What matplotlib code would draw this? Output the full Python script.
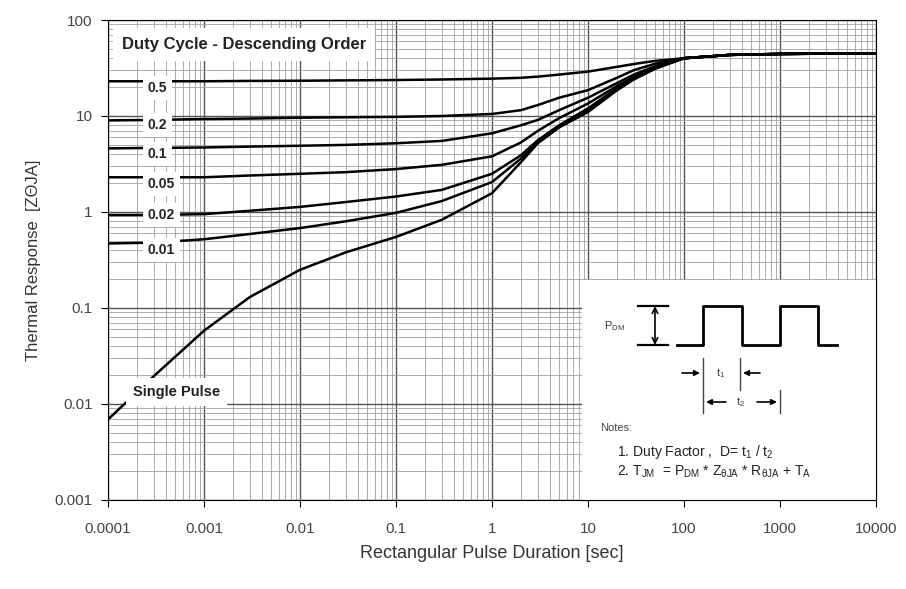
import numpy as np
import matplotlib.pyplot as plt

# pulse duration (s)
t = [1e-4, 3e-4, 1e-3, 3e-3, 1e-2, 3e-2, 0.1, 0.3, 1, 2, 3, 5, 10, 20, 30, 50,
     100, 200, 300, 1000, 1e4]
plateau = [40, 42, 43.3, 44.3, 45]

d05 = [23, 23, 23, 23.2, 23.3, 23.5, 23.7, 24, 24.5, 25, 25.7, 27, 29, 32.5, 34.8, 37.5] + plateau
d02 = [9.0, 9.1, 9.3, 9.4, 9.6, 9.7, 9.8, 10.0, 10.5, 11.5, 13, 15.5, 18.6, 25, 30, 35] + plateau
d01 = [4.6, 4.65, 4.7, 4.8, 4.9, 5.0, 5.2, 5.5, 6.6, 8.0, 9.1, 11.5, 15.5, 22, 27, 33] + plateau
d005 = [2.3, 2.3, 2.3, 2.4, 2.5, 2.6, 2.8, 3.1, 3.8, 5.3, 7.0, 9.5, 13.5, 20.5, 25.5, 32] + plateau
d002 = [0.93, 0.93, 0.95, 1.03, 1.13, 1.27, 1.45, 1.7, 2.5, 3.9, 5.6, 8.0, 12, 19.5, 25, 32] + plateau
d001 = [0.47, 0.48, 0.52, 0.59, 0.68, 0.8, 0.98, 1.3, 2.05, 3.6, 5.3, 7.8, 11.5, 19, 24.5, 31.5] + plateau
single = [0.0069, 0.0195, 0.058, 0.13, 0.25, 0.38, 0.55, 0.83, 1.57, 3.3, 5.2, 7.6, 11, 18.5, 24, 31] + plateau

curves = [d05, d02, d01, d005, d002, d001, single]
labels = ['0.5', '0.2', '0.1', '0.05', '0.02', '0.01']
label_pos = [(2.6e-4, 19.6), (2.6e-4, 8.06), (2.6e-4, 4.02), (2.6e-4, 1.96), (2.6e-4, 0.93), (2.6e-4, 0.40)]

xticks = [1e-4, 1e-3, 1e-2, 0.1, 1, 10, 100, 1000, 1e4]
xticklabels = ['0.0001', '0.001', '0.01', '0.1', '1', '10', '100', '1000', '10000']
yticks = [0.001, 0.01, 0.1, 1, 10, 100]
yticklabels = ['0.001', '0.01', '0.1', '1', '10', '100']

plt.rcParams['font.family'] = ['Liberation Sans', 'DejaVu Sans']

fig = plt.figure(figsize=(9.06, 5.89), dpi=100)
ax = fig.add_axes([108/906, 89/589, 768/906, 480/589])
ax.set_xscale('log')
ax.set_yscale('log')
ax.set_xlim(1e-4, 1e4)
ax.set_ylim(1e-3, 100)

for c in curves:
    ax.plot(t, c, color='black', lw=1.8, zorder=3)

ax.grid(which='major', color='#555555', lw=1.0)
ax.grid(which='minor', color='#a0a0a0', lw=0.6)
ax.set_xticks(xticks)
ax.set_xticklabels(xticklabels)
ax.set_yticks(yticks)
ax.set_yticklabels(yticklabels)
ax.tick_params(which='minor', length=0)
ax.tick_params(which='major', length=5, labelsize=11, labelcolor='#444444', pad=6)
ax.tick_params(axis='x', pad=11)
for s in ax.spines.values():
    s.set_color('black')

ax.set_xlabel('Rectangular Pulse Duration [sec]', fontsize=13, color='#333333', labelpad=6)
ax.set_ylabel('Thermal Response  [ZΘJA]', fontsize=12, color='#333333', labelpad=10)

box = dict(facecolor='white', edgecolor='none', boxstyle='square,pad=0.35')
for lab, (x, y) in zip(labels, label_pos):
    ax.text(x, y, lab, fontsize=10, fontweight='bold', color='#222222',
            va='center', zorder=5, bbox=box)
ax.text(1.4e-4, 56, 'Duty Cycle - Descending Order', fontsize=12, fontweight='bold',
        color='#222222', va='center', zorder=5,
        bbox=dict(facecolor='white', edgecolor='none', boxstyle='square,pad=0.55'))
ax.text(1.82e-4, 0.0133, 'Single Pulse', fontsize=10.5, fontweight='bold', color='#222222',
        va='center', zorder=5,
        bbox=dict(facecolor='white', edgecolor='none', boxstyle='square,pad=0.5'))

# notes inset (pixel-like coordinates)
ins = fig.add_axes([582/906, 89/589, 294/906, 220/589], zorder=10)
ins.set_xlim(582, 876)
ins.set_ylim(500, 280)
ins.set_xticks([])
ins.set_yticks([])
for s in ['top', 'left']:
    ins.spines[s].set_visible(False)
ins.spines['right'].set_color('black')
ins.spines['bottom'].set_color('black')

k = dict(color='black', lw=1.6)
ins.plot([638, 668], [306, 306], **k)
ins.plot([638, 668], [345, 345], **k)
ins.annotate('', xy=(655, 306), xytext=(655, 345),
             arrowprops=dict(arrowstyle='<->', lw=1.2, shrinkA=0, shrinkB=0))
ins.plot([677, 703, 703, 742, 742, 780, 780, 818, 818, 837],
         [345, 345, 306, 306, 345, 345, 306, 306, 345, 345], color='black', lw=2)
ins.text(604, 326, '$\\mathregular{P_{DM}}$', fontsize=8, color='#333333', va='center')
ins.plot([703, 703], [358, 413], color='#444444', lw=1)
ins.plot([740, 740], [358, 390], color='#444444', lw=1)
ins.plot([780, 780], [390, 413], color='#444444', lw=1)
a = dict(arrowstyle='-|>', lw=1.2, color='black', shrinkA=0, shrinkB=0, mutation_scale=8)
ins.annotate('', xy=(700, 373), xytext=(682, 373), arrowprops=a)
ins.annotate('', xy=(743, 373), xytext=(760, 373), arrowprops=a)
ins.annotate('', xy=(706, 402), xytext=(726, 402), arrowprops=a)
ins.annotate('', xy=(777, 402), xytext=(757, 402), arrowprops=a)
ins.text(721, 373, '$\\mathregular{t_1}$', fontsize=8, color='#444444', ha='center', va='center')
ins.text(741, 402, '$\\mathregular{t_2}$', fontsize=8, color='#444444', ha='center', va='center')
ins.text(600, 428, 'Notes:', fontsize=8, color='#444444', va='center')
ins.text(617, 452, '1. Duty Factor ,  D= $\\mathregular{t_1}$ / $\\mathregular{t_2}$', fontsize=10,
         color='#222222', va='center')
ins.text(617, 472, '2. $\\mathregular{T_{JM}}$  = $\\mathregular{P_{DM}}$ * $\\mathregular{Z_{\\theta JA}}$ * '
         '$\\mathregular{R_{\\theta JA}}$ + $\\mathregular{T_A}$', fontsize=10,
         color='#222222', va='center')

fig.savefig('out.png', dpi=100)
